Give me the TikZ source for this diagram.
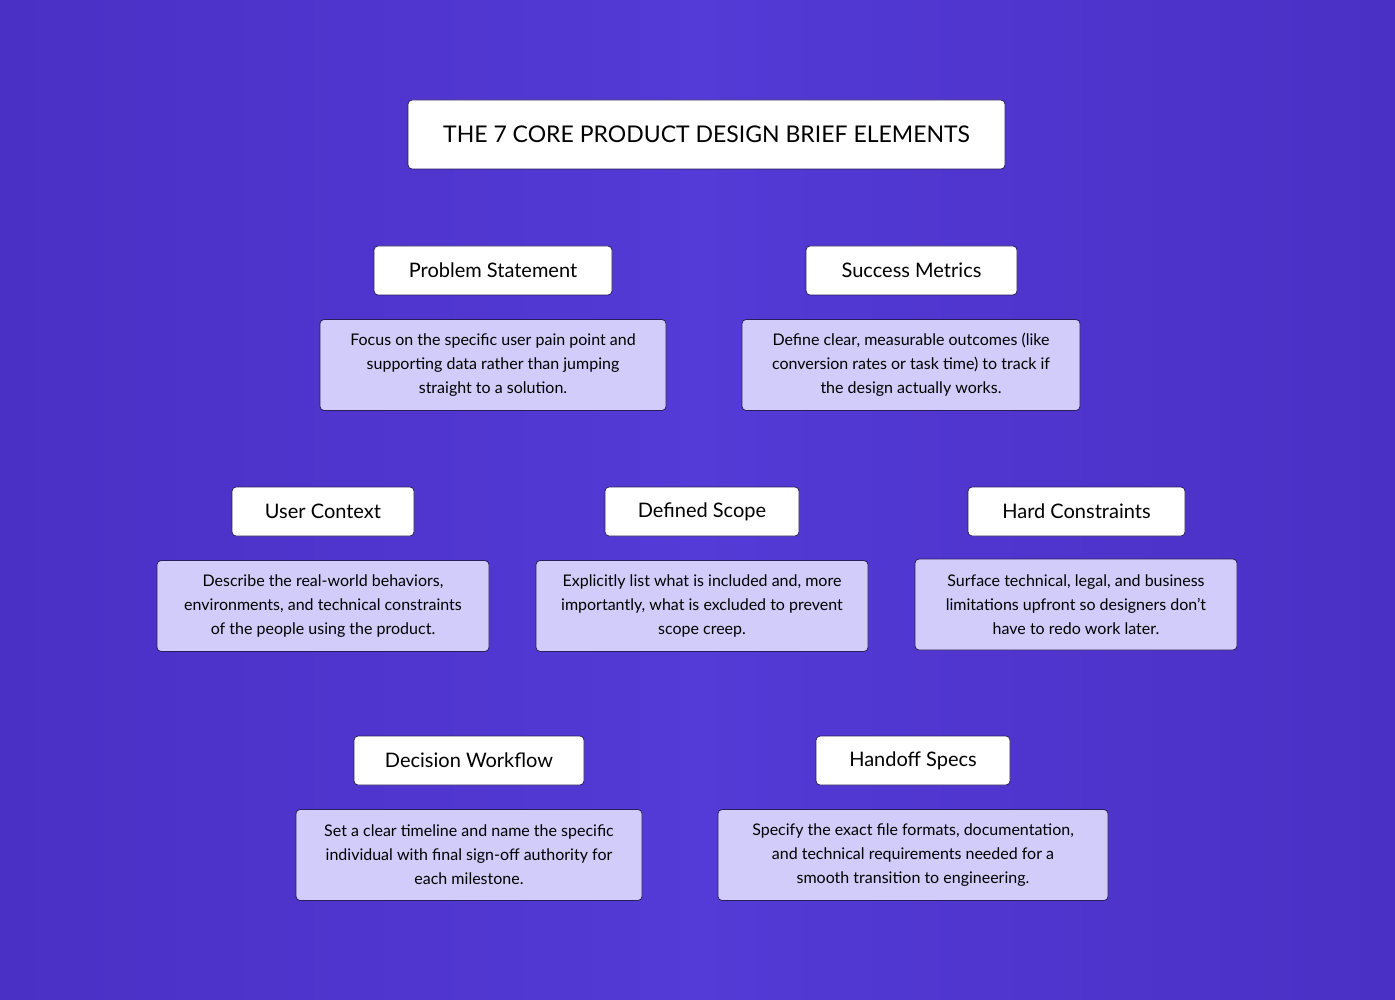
\documentclass[tikz,border=0pt]{standalone}
\usepackage{fontspec}
\setmainfont{Lato}
\definecolor{bgA}{RGB}{84,58,214}
\definecolor{bgB}{RGB}{74,48,196}
\definecolor{descfill}{RGB}{210,204,250}
\definecolor{edge}{RGB}{40,30,90}
\begin{document}
\begin{tikzpicture}[x=1pt,y=-1pt,
 title/.style={draw=edge,line width=0.8pt,fill=white,rounded corners=4pt,minimum height=69pt,font=\fontsize{23}{27}\selectfont,inner sep=0pt},
 head/.style={draw=edge,line width=0.8pt,fill=white,rounded corners=4pt,minimum height=49pt,font=\fontsize{20}{23}\selectfont,inner sep=0pt},
 desc/.style={draw=edge,line width=0.8pt,fill=descfill,rounded corners=4pt,minimum height=91pt,font=\fontsize{16}{24}\selectfont,align=center,inner sep=0pt}]
\shade[left color=bgB,right color=bgB,middle color=bgA] (0,0) rectangle (1395,1000);
\useasboundingbox (0,0) rectangle (1395,1000);
\node[title,minimum width=597pt] (t) at (706.5,134.5) {\raisebox{-2pt}{THE 7 CORE PRODUCT DESIGN BRIEF ELEMENTS}};
\node[head,minimum width=238pt] (h1) at (493,270.5) {\raisebox{-2pt}{Problem Statement}};
\node[desc,minimum width=346pt] (d1) at (493,365) {Focus on the specific user pain point and\\supporting data rather than jumping\\straight to a solution.};
\node[head,minimum width=211pt] (h2) at (911.5,270.5) {\raisebox{-2pt}{Success Metrics}};
\node[desc,minimum width=338pt] (d2) at (911,365) {Define clear, measurable outcomes (like\\conversion rates or task time) to track if\\the design actually works.};
\node[head,minimum width=182pt] (h3) at (323,511.5) {\raisebox{-2pt}{User Context}};
\node[desc,minimum width=332pt] (d3) at (323,606) {Describe the real-world behaviors,\\environments, and technical constraints\\of the people using the product.};
\node[head,minimum width=194pt] (h4) at (702,511.5) {\raisebox{-2pt}{Defined Scope}};
\node[desc,minimum width=332pt] (d4) at (702,606) {Explicitly list what is included and, more\\importantly, what is excluded to prevent\\scope creep.};
\node[head,minimum width=217pt] (h5) at (1076.5,511.5) {\raisebox{-2pt}{Hard Constraints}};
\node[desc,minimum width=322pt] (d5) at (1076,604.5) {Surface technical, legal, and business\\limitations upfront so designers don't\\have to redo work later.};
\node[head,minimum width=230pt] (h6) at (469,760.5) {\raisebox{-2pt}{Decision Workflow}};
\node[desc,minimum width=346pt] (d6) at (469,855) {Set a clear timeline and name the specific\\individual with final sign-off authority for\\each milestone.};
\node[head,minimum width=194pt] (h7) at (913,760.5) {\raisebox{-2pt}{Handoff Specs}};
\node[desc,minimum width=390pt] (d7) at (913,855) {Specify the exact file formats, documentation,\\and technical requirements needed for a\\smooth transition to engineering.};
\end{tikzpicture}
\end{document}
